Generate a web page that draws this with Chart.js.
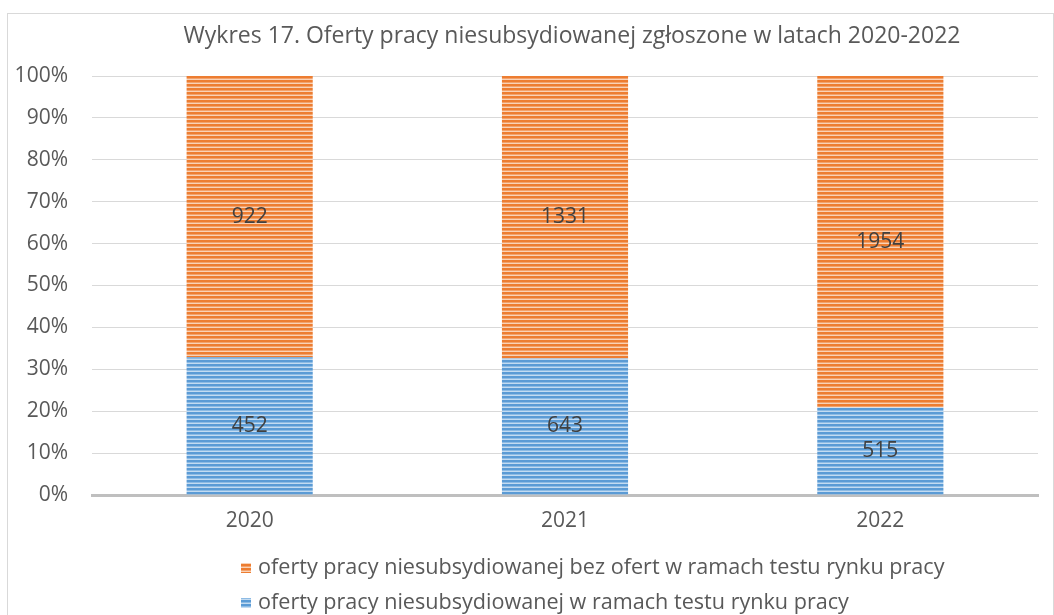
<!DOCTYPE html>
<html>
<head>
<meta charset="utf-8">
<script src="https://cdn.jsdelivr.net/npm/chart.js@4"></script>
<style>
  body { margin: 0; background: #fff; }
  canvas { display: block; }
</style>
</head>
<body>
<canvas id="chart" width="1054" height="615"></canvas>
<script>
const years = ['2020', '2021', '2022'];
const withTest = [452, 643, 515];
const withoutTest = [922, 1331, 1954];
const yTicks = ['0%', '10%', '20%', '30%', '40%', '50%', '60%', '70%', '80%', '90%', '100%'];
const titleText = 'Wykres 17. Oferty pracy niesubsydiowanej zgłoszone w latach 2020-2022';
const labelWith = 'oferty pracy niesubsydiowanej w ramach testu rynku pracy';
const labelWithout = 'oferty pracy niesubsydiowanej bez ofert w ramach testu rynku pracy';

const FONT = "'Open Sans', sans-serif";
const TEXT = '#595959';

function stripes(dark, mid, light) {
    const c = document.createElement('canvas');
    c.width = 4; c.height = 4;
    const g = c.getContext('2d');
    g.fillStyle = dark; g.fillRect(0, 0, 4, 2);
    g.fillStyle = mid; g.fillRect(0, 2, 4, 1);
    g.fillStyle = light; g.fillRect(0, 3, 4, 1);
    return g.createPattern(c, 'repeat');
}
const orange = stripes('#ED7D31', '#F3A26B', '#F9D2B6');
const blue = stripes('#5B9BD5', '#8DBBE4', '#C3DBF1');

const totals = years.map((y, i) => withTest[i] + withoutTest[i]);
const pctWith = withTest.map((v, i) => v / totals[i] * 100);
const pctWithout = withoutTest.map((v, i) => v / totals[i] * 100);

// napisy z wartościami, tytuł, legenda i ramka
const extras = {
    id: 'extras',
    afterDatasetsDraw(chart) {
        const ctx = chart.ctx;
        ctx.save();
        ctx.font = '21px ' + FONT;
        ctx.fillStyle = '#404040';
        ctx.textAlign = 'center';
        ctx.textBaseline = 'middle';
        chart.data.datasets.forEach((ds, di) => {
            chart.getDatasetMeta(di).data.forEach((bar, i) => {
                const mid = (bar.y + bar.base) / 2;
                ctx.fillText(String(ds.raw[i]), bar.x, mid);
            });
        });
        ctx.restore();
    },
    afterDraw(chart) {
        const ctx = chart.ctx;
        ctx.save();
        ctx.strokeStyle = '#D9D9D9';
        ctx.lineWidth = 1;
        ctx.strokeRect(7.5, 13.5, 1046, 700);

        ctx.fillStyle = TEXT;
        ctx.font = '23px ' + FONT;
        ctx.textAlign = 'center';
        ctx.textBaseline = 'middle';
        ctx.fillText(titleText, 572, 36);

        ctx.font = '21.6px ' + FONT;
        ctx.textAlign = 'left';
        const items = [chart.data.datasets[1], chart.data.datasets[0]];
        items.forEach((ds, k) => {
            const y = 568 + k * 35;
            ctx.fillStyle = ds.backgroundColor;
            ctx.fillRect(241, y - 5, 10, 10);
            ctx.fillStyle = TEXT;
            ctx.fillText(ds.label, 258, y);
        });
        ctx.restore();
    }
};

new Chart(document.getElementById('chart').getContext('2d'), {
    type: 'bar',
    data: {
        labels: years,
        datasets: [{
            label: labelWith,
            data: pctWith,
            raw: withTest,
            backgroundColor: blue
        }, {
            label: labelWithout,
            data: pctWithout,
            raw: withoutTest,
            backgroundColor: orange
        }]
    },
    options: {
        responsive: false,
        animation: false,
        categoryPercentage: 1,
        barPercentage: 0.4,
        layout: { padding: { left: 0, top: 76, right: 16, bottom: 0 } },
        scales: {
            x: {
                stacked: true,
                grid: { display: false },
                border: { display: true, color: '#BFBFBF', width: 3 },
                ticks: { color: TEXT, font: { size: 21, family: FONT }, padding: 5 },
                afterFit(scale) { scale.height = 120; }
            },
            y: {
                stacked: true,
                min: 0,
                max: 100,
                grid: { color: '#D9D9D9', drawTicks: false },
                border: { display: false },
                ticks: {
                    stepSize: 10,
                    padding: 24,
                    color: TEXT,
                    font: { size: 21, family: FONT },
                    callback: (v, i) => yTicks[i]
                },
                afterFit(scale) { scale.width = 92; }
            }
        },
        plugins: {
            legend: { display: false },
            title: { display: false },
            tooltip: { enabled: false }
        }
    },
    plugins: [extras]
});
</script>
</body>
</html>
